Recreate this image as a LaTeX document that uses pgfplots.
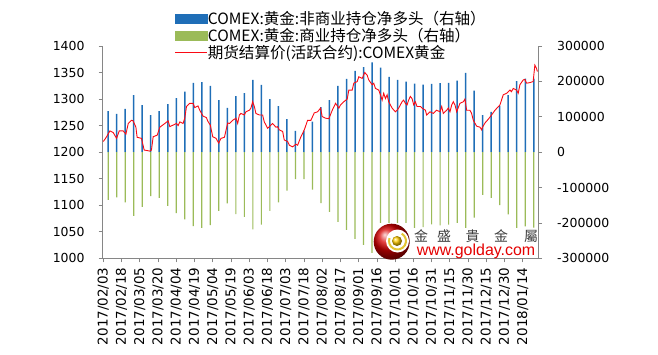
\documentclass[border=0pt]{standalone}
\usepackage{fontspec}
\setmainfont{DejaVu Sans}
\newfontfamily\cjk{Noto Sans CJK SC}
\newfontfamily\cjktc{Noto Sans CJK TC}
\newfontfamily\arialf{Liberation Sans}
\usepackage{pgfplots}
\usepackage{pgfplotstable}
\pgfplotsset{compat=1.18}
\definecolor{barblue}{RGB}{31,110,183}
\definecolor{bargreen}{RGB}{155,187,89}
\definecolor{pricered}{RGB}{250,10,20}
\definecolor{axgray}{RGB}{134,134,134}

\pgfplotstableread{
day nc c
4 116000 -135000
11 108000 -128000
18 122000 -142000
25 161000 -180000
32 133000 -155000
39 105000 -124000
46 116000 -129000
53 136000 -152000
60 153000 -172000
67 171000 -190000
74 196000 -209000
81 198000 -214000
88 187000 -206000
95 147000 -166000
102 125000 -145000
109 158000 -175000
116 167000 -183000
123 204000 -218000
130 190000 -205000
137 150000 -166000
144 130000 -142000
151 93000 -109000
158 60000 -76000
165 61000 -76000
172 86000 -106000
179 127000 -144000
186 147000 -169000
193 187000 -197000
200 207000 -220000
207 230000 -245000
214 240000 -262000
221 254000 -285000
228 239000 -270000
235 213000 -248000
242 204000 -235000
249 199000 -222000
256 194000 -216000
263 191000 -212000
270 193000 -204000
277 195000 -207000
284 196000 -205000
291 202000 -200000
298 224000 -215000
305 174000 -185000
312 105000 -121000
319 114000 -129000
326 131000 -150000
333 161000 -176000
340 201000 -220000
347 208000 -210000
354 208000 -213000
}\positions

\pgfplotstableread{
day p
0 1220
2.7 1229
5.4 1240
8.1 1237
10.9 1226
13.1 1240
16.3 1240
18.6 1234
20.5 1254
23.2 1260
24.5 1259
26.8 1247
27.8 1228
31.4 1226
33.6 1204
38.3 1202
39.6 1204
41 1229
44.3 1232
46.5 1247
50.6 1254
53.3 1259
54.7 1248
57.4 1251
60.2 1254
61.5 1250
62.9 1257
65.6 1254
67 1264
68.4 1286
71.1 1292
73.8 1292
75.2 1284
77.9 1287
79.3 1279
82 1268
84.8 1265
86 1258
88 1251
90 1229
92.7 1226
94.9 1217
96.8 1226
99.6 1228
102.3 1255
103.7 1254
106.4 1260
109.1 1264
110.5 1254
111.9 1270
113.2 1273
116 1270
117.3 1276
120.1 1279
121.4 1283
122.8 1295
124.2 1286
125.5 1273
128.3 1270
131 1270
132.4 1257
135.1 1245
136.5 1248
139.2 1254
142 1247
143.3 1248
144.7 1242
147.5 1239
148.8 1223
151.6 1220
153 1213
155.7 1210
158.4 1215
159.8 1213
162.5 1229
165.3 1242
168 1260
170.7 1260
173.5 1274
176.2 1276
178.7 1283
180 1267
182.8 1264
185.5 1263
188.3 1279
191 1292
193.7 1283
195.1 1289
197.8 1295
200.6 1300
201.9 1317
204.7 1317
206 1330
208.8 1333
210.1 1342
212.9 1339
215 1350
217 1345
218.3 1336
221.1 1327
222.4 1330
223.8 1320
226.5 1317
227.9 1308
229.3 1298
230.6 1311
232 1301
233.4 1308
234.7 1295
237.5 1283
240.2 1276
241.6 1279
242.9 1283
245.7 1295
247 1298
248.4 1292
249.8 1289
251.1 1298
252.5 1305
253.9 1301
255.3 1289
256.6 1295
258 1286
260.8 1286
262.1 1283
264.9 1279
265.9 1270
268.7 1276
271.4 1273
274.1 1279
276.9 1276
278.3 1286
279.6 1273
282.4 1279
283.7 1283
285.1 1276
286.5 1289
287.8 1295
289.2 1289
290.6 1276
293.3 1292
296.1 1295
297.4 1300
298.8 1279
301.5 1279
302.9 1273
304.3 1260
307 1249
309.8 1247
311.1 1242
311.9 1247
313.9 1255
316.6 1262
319.3 1270
322.1 1279
326.2 1289
328.9 1308
331.7 1311
334.4 1317
335.7 1314
337.1 1320
339.8 1317
341.2 1311
342.6 1327
345.3 1336
346.7 1337
348.1 1330
350.8 1331
353.5 1333
354.9 1364
356.2 1358
357 1352
}\price

\begin{document}
\begin{tikzpicture}[x=1bp,y=1bp]
\useasboundingbox (0,0) rectangle (658,354);
\begin{axis}[
  at={(102.7bp,95.7bp)}, anchor=south west, scale only axis,
  width=435.3bp, height=212.3bp,
  xmin=-0.5, xmax=357.5, ymin=-300000, ymax=300000,
  scaled y ticks=false,
  axis x line*=bottom, axis y line*=right,
  axis line style={axgray, line width=0.75bp},
  tick style={axgray, line width=0.75bp},
  tick align=outside, major tick length=4bp,
  xtick={0,15,...,345},
  xticklabels={2017/02/03,2017/02/18,2017/03/05,2017/03/20,2017/04/04,2017/04/19,2017/05/04,2017/05/19,2017/06/03,2017/06/18,2017/07/03,2017/07/18,2017/08/02,2017/08/17,2017/09/01,2017/09/16,2017/10/01,2017/10/16,2017/10/31,2017/11/15,2017/11/30,2017/12/15,2017/12/30,2018/01/14},
  xticklabel style={rotate=90, anchor=east, inner sep=0pt, font=\fontsize{13.5}{15}\selectfont},
  xticklabel shift=5bp,
  ytick={-300000,-200000,-100000,0,100000,200000,300000},
  yticklabels={-300000,-200000,-100000,0,100000,200000,300000},
  yticklabel style={anchor=west, inner sep=0pt, font=\fontsize{12.5}{14}\selectfont},
  yticklabel shift=15bp,
]
\addplot[ybar, bar width=1.5bp, bar shift=0pt, fill=barblue, draw=none] table[x=day, y=nc] {\positions};
\addplot[ybar, bar width=1.2bp, bar shift=0pt, fill=bargreen, draw=none] table[x=day, y=c] {\positions};
\end{axis}
\begin{axis}[
  at={(102.7bp,95.7bp)}, anchor=south west, scale only axis,
  width=435.3bp, height=212.3bp,
  xmin=-0.5, xmax=357.5, ymin=1000, ymax=1400,
  hide x axis, axis y line*=left,
  axis line style={axgray, line width=0.75bp},
  tick style={axgray, line width=0.75bp},
  tick align=outside, major tick length=4bp,
  ytick={1000,1050,1100,1150,1200,1250,1300,1350,1400},
  yticklabels={1000,1050,1100,1150,1200,1250,1300,1350,1400},
  yticklabel style={anchor=east, inner sep=0pt, font=\fontsize{12.5}{14}\selectfont},
  yticklabel shift=14bp,
  legend cell align=left,
  legend style={at={(0.1661,1.162)}, anchor=north west, draw=none, fill=none,
    inner sep=0pt, outer sep=0pt, row sep=2bp,
    font=\cjk\fontsize{15.6}{17}\selectfont, nodes={inner sep=0pt},
    /tikz/every even column/.append style={column sep=2bp}},
]
\addlegendimage{legend image code/.code={\fill[barblue] (0bp,-4.5bp) rectangle (32bp,4.5bp);}}
\addlegendentry{COMEX:黄金:非商业持仓净多头（右轴）}
\addlegendimage{legend image code/.code={\fill[bargreen] (0bp,-4.5bp) rectangle (32bp,4.5bp);}}
\addlegendentry{COMEX:黄金:商业持仓净多头（右轴）}
\addplot[pricered, line width=0.9bp, mark=none,
  legend image code/.code={\draw[pricered, line width=0.9bp] (0bp,0bp) -- (32bp,0bp);}]
  table[x=day, y=p] {\price};
\addlegendentry{期货结算价(活跃合约):COMEX黄金}
\end{axis}
% watermark
\fill[white] (410,96.3) rectangle (537.4,126);
\fill[white] (373,96.3) rectangle (410,131);
\shade[ball color=red!85!black] (391.7,112.3) circle (18);
\fill[white] (397.5,113) circle (11.5);
\draw[yellow!55!brown, line width=2bp] (397.5,113) ++(60:8.5) arc (60:-200:8.5);
\shade[ball color=yellow!60!orange] (397,113) circle (5);
\foreach \x/\c in {421/金,444/盛,472.5/貴,501/金,531/屬}
  \node[font=\cjktc\fontsize{14}{14}\selectfont, text=black!75, inner sep=0pt] at (\x,118) {\c};
\node[font=\arialf\fontsize{16}{16}\selectfont, text=red!90!black, inner sep=0pt] at (476,103) {www.golday.com};
\end{tikzpicture}
\end{document}
